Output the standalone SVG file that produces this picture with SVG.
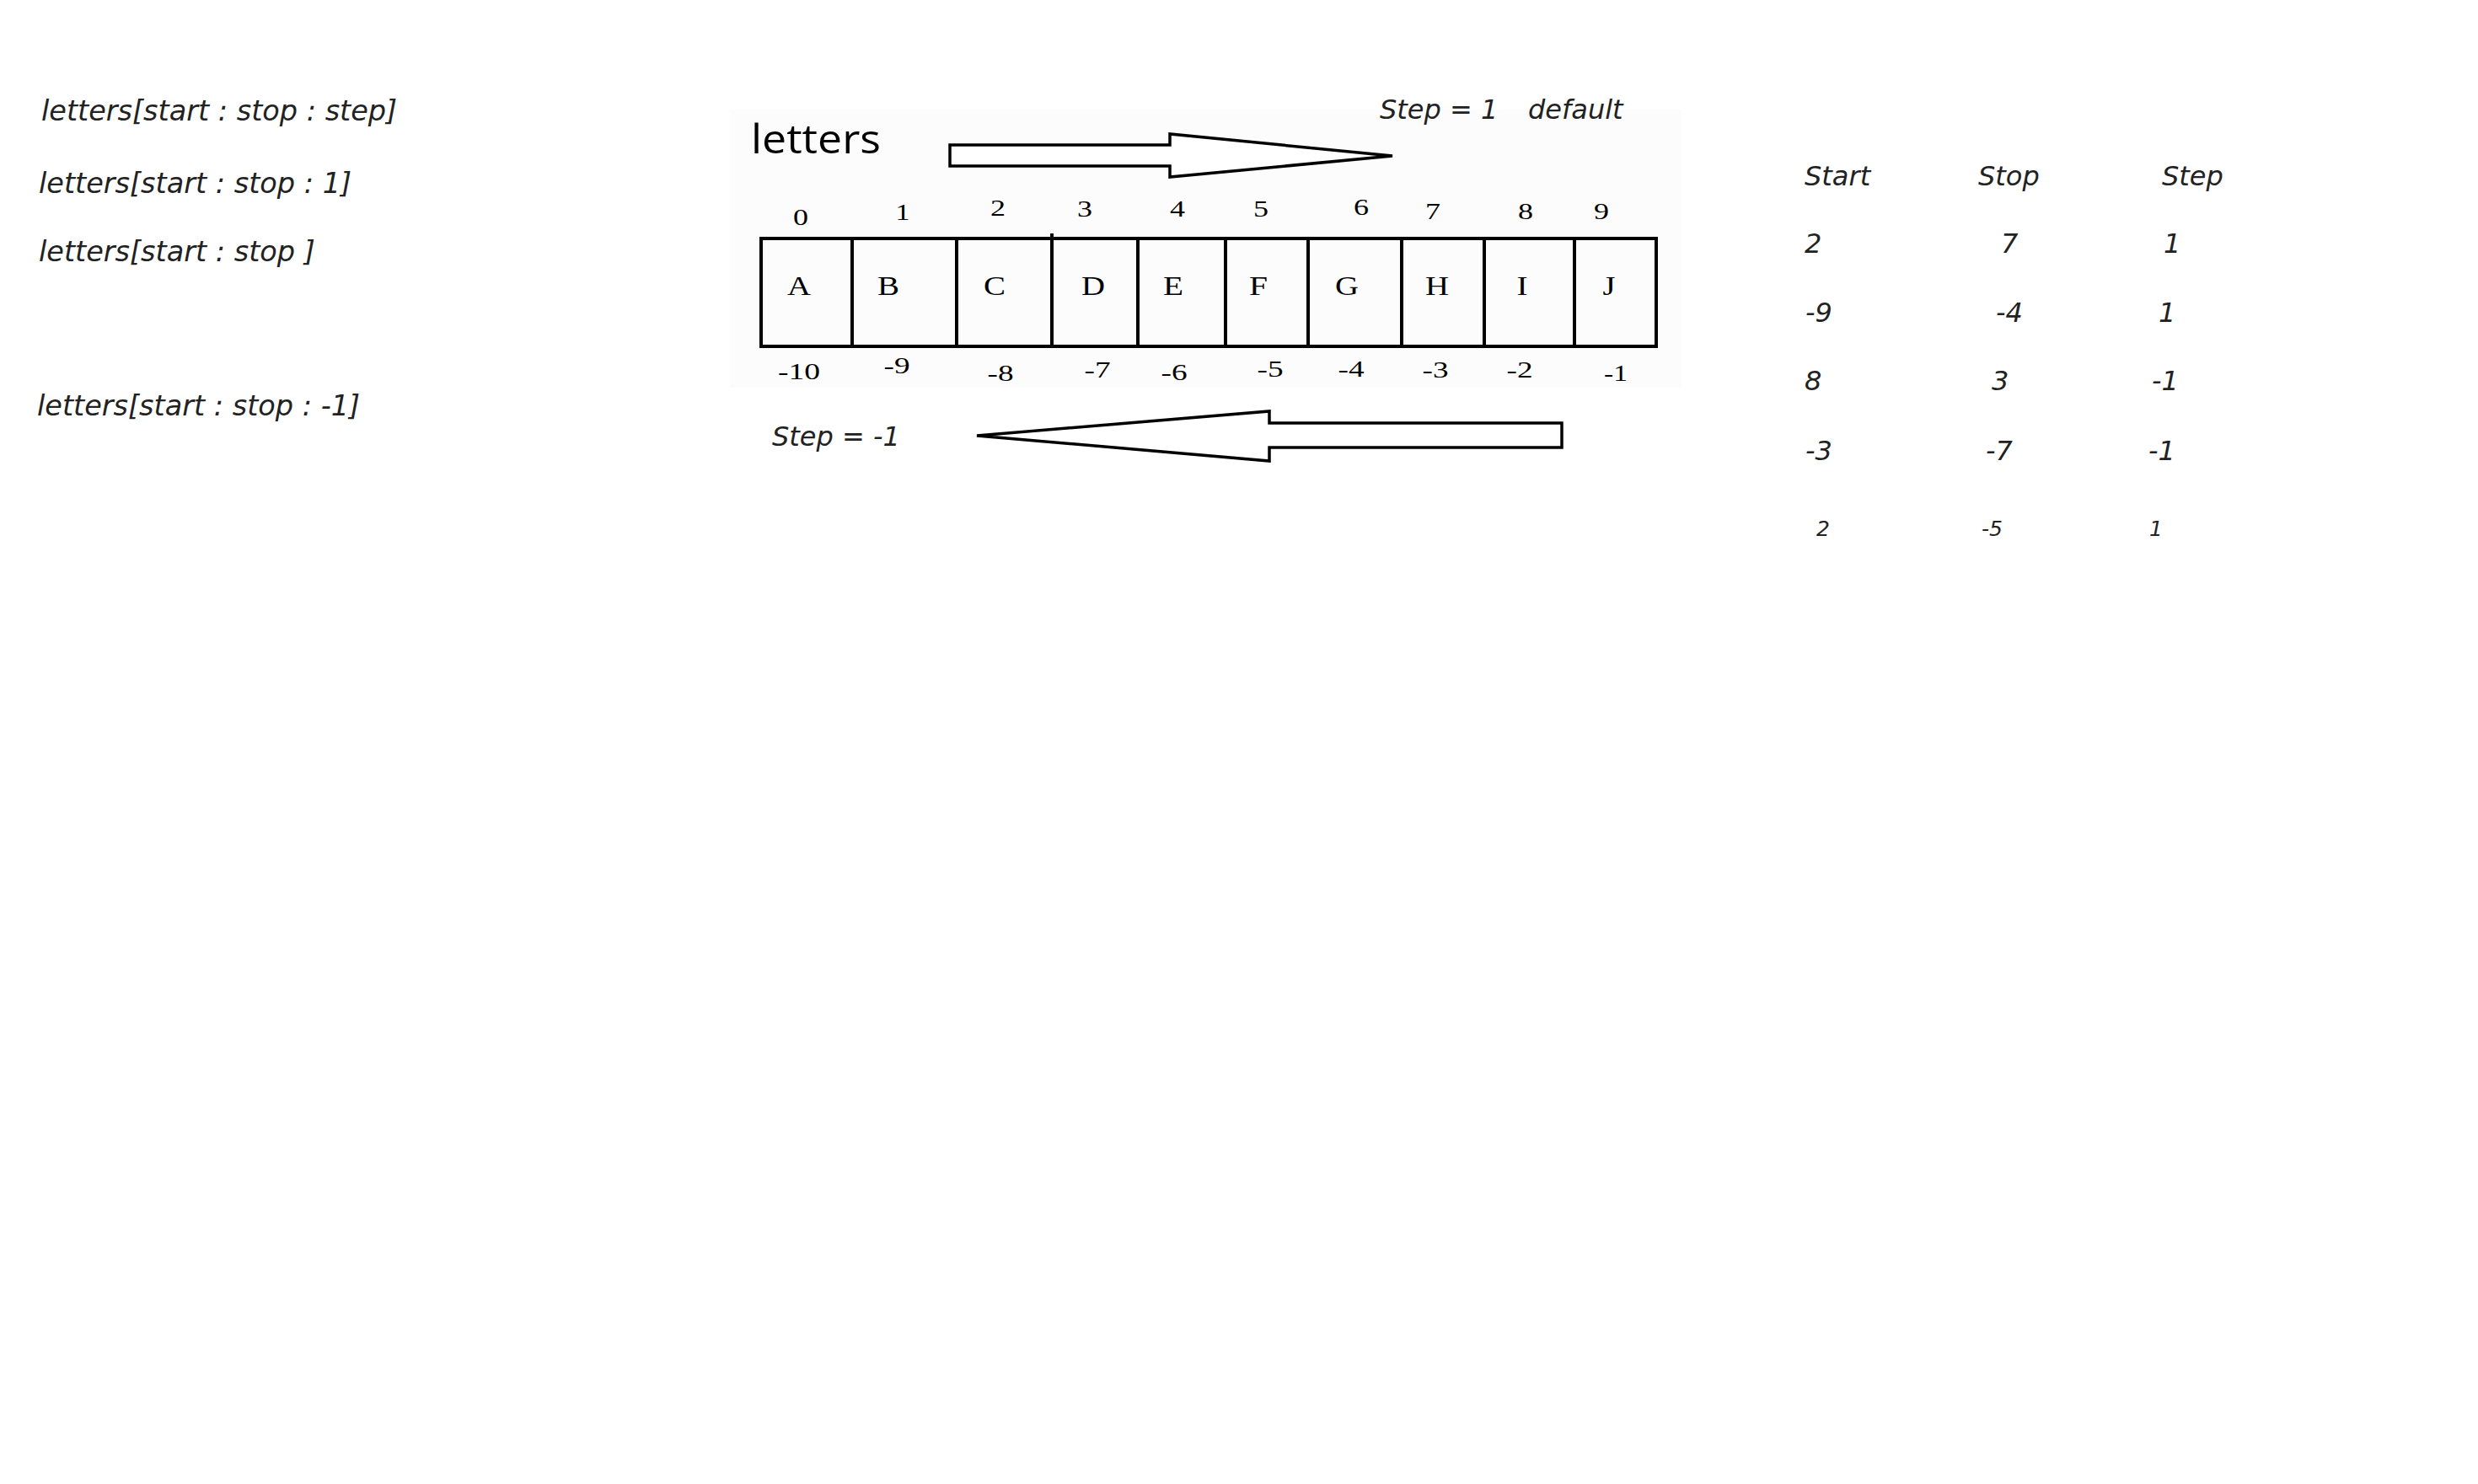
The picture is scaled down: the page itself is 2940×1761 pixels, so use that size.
<svg xmlns="http://www.w3.org/2000/svg" width="2940" height="1761" viewBox="0 0 2940 1761">
<style>
.it{font-family:"DejaVu Sans","Liberation Sans",sans-serif;font-style:italic;font-size:32px;fill:#222}
.big{font-size:33.5px}
.sm{font-size:25px}
.cell{fill:none;stroke:#000;stroke-width:4}
.ser{font-family:"Liberation Serif","DejaVu Serif",serif;font-size:31px;fill:#000;text-anchor:middle}
.num{font-size:28px}
.arr{fill:#fff;stroke:#000;stroke-width:3.5;stroke-linejoin:miter}
</style>
<rect width="2940" height="1761" fill="#fff"/>
<rect x="866" y="130" width="1129" height="330" fill="#fcfcfc"/>

<g id="syntax">
<text class="it big" x="49" y="143">letters[start : stop : step]</text>
<text class="it big" x="46" y="229">letters[start : stop : 1]</text>
<text class="it big" x="46" y="310">letters[start : stop ]</text>
<text class="it big" x="44" y="493">letters[start : stop : -1]</text>
</g>

<g id="title">
<text x="891" y="182" font-family="'Open Sans','DejaVu Sans',sans-serif" font-size="47" fill="#000" textLength="154" lengthAdjust="spacingAndGlyphs">letters</text>
</g>

<g id="step-labels">
<text class="it" x="1637" y="141">Step = 1</text>
<text class="it" x="1813" y="141">default</text>
<text class="it" x="916" y="529">Step = -1</text>
</g>

<g id="arrows">
<polygon class="arr" points="1127,172 1388,172 1388,159 1652,185 1388,210 1388,197 1127,197"/>
<polygon class="arr" points="1159,517 1506,488 1506,502 1853,502 1853,531 1506,531 1506,547"/>
</g>

<g id="array">
<g id="cell-A"><rect class="cell" x="903" y="283" width="108" height="128"/><text class="ser" x="948" y="350" textLength="28" lengthAdjust="spacingAndGlyphs">A</text><text class="ser num" x="950" y="267" textLength="18" lengthAdjust="spacingAndGlyphs">0</text><text class="ser num" x="948" y="450" textLength="50" lengthAdjust="spacingAndGlyphs">-10</text></g>
<g id="cell-B"><rect class="cell" x="1011" y="283" width="124" height="128"/><text class="ser" x="1054" y="350" textLength="26" lengthAdjust="spacingAndGlyphs">B</text><text class="ser num" x="1071" y="261" textLength="17" lengthAdjust="spacingAndGlyphs">1</text><text class="ser num" x="1064" y="443" textLength="31" lengthAdjust="spacingAndGlyphs">-9</text></g>
<g id="cell-C"><rect class="cell" x="1135" y="283" width="113" height="128"/><text class="ser" x="1180" y="350" textLength="26" lengthAdjust="spacingAndGlyphs">C</text><text class="ser num" x="1184" y="256" textLength="18" lengthAdjust="spacingAndGlyphs">2</text><text class="ser num" x="1187" y="452" textLength="31" lengthAdjust="spacingAndGlyphs">-8</text></g>
<g id="cell-D"><rect class="cell" x="1248" y="283" width="102" height="128"/><line x1="1248" y1="277" x2="1248" y2="283" stroke="#000" stroke-width="4"/><text class="ser" x="1297" y="350" textLength="28" lengthAdjust="spacingAndGlyphs">D</text><text class="ser num" x="1287" y="257" textLength="18" lengthAdjust="spacingAndGlyphs">3</text><text class="ser num" x="1302" y="448" textLength="31" lengthAdjust="spacingAndGlyphs">-7</text></g>
<g id="cell-E"><rect class="cell" x="1350" y="283" width="104" height="128"/><text class="ser" x="1392" y="350" textLength="24" lengthAdjust="spacingAndGlyphs">E</text><text class="ser num" x="1397" y="257" textLength="18" lengthAdjust="spacingAndGlyphs">4</text><text class="ser num" x="1393" y="451" textLength="31" lengthAdjust="spacingAndGlyphs">-6</text></g>
<g id="cell-F"><rect class="cell" x="1454" y="283" width="98" height="128"/><text class="ser" x="1493" y="350" textLength="22" lengthAdjust="spacingAndGlyphs">F</text><text class="ser num" x="1496" y="257" textLength="18" lengthAdjust="spacingAndGlyphs">5</text><text class="ser num" x="1507" y="447" textLength="31" lengthAdjust="spacingAndGlyphs">-5</text></g>
<g id="cell-G"><rect class="cell" x="1552" y="283" width="111" height="128"/><text class="ser" x="1598" y="350" textLength="28" lengthAdjust="spacingAndGlyphs">G</text><text class="ser num" x="1615" y="255" textLength="18" lengthAdjust="spacingAndGlyphs">6</text><text class="ser num" x="1603" y="447" textLength="31" lengthAdjust="spacingAndGlyphs">-4</text></g>
<g id="cell-H"><rect class="cell" x="1663" y="283" width="98" height="128"/><text class="ser" x="1705" y="350" textLength="28" lengthAdjust="spacingAndGlyphs">H</text><text class="ser num" x="1700" y="260" textLength="18" lengthAdjust="spacingAndGlyphs">7</text><text class="ser num" x="1703" y="448" textLength="31" lengthAdjust="spacingAndGlyphs">-3</text></g>
<g id="cell-I"><rect class="cell" x="1761" y="283" width="107" height="128"/><text class="ser" x="1806" y="350" textLength="13" lengthAdjust="spacingAndGlyphs">I</text><text class="ser num" x="1810" y="260" textLength="18" lengthAdjust="spacingAndGlyphs">8</text><text class="ser num" x="1803" y="448" textLength="31" lengthAdjust="spacingAndGlyphs">-2</text></g>
<g id="cell-J"><rect class="cell" x="1868" y="283" width="97" height="128"/><text class="ser" x="1909" y="350" textLength="15" lengthAdjust="spacingAndGlyphs">J</text><text class="ser num" x="1900" y="260" textLength="18" lengthAdjust="spacingAndGlyphs">9</text><text class="ser num" x="1917" y="452" textLength="28" lengthAdjust="spacingAndGlyphs">-1</text></g>
</g>

<g id="table">
<text class="it" x="2141" y="220">Start</text>
<text class="it" x="2347" y="220">Stop</text>
<text class="it" x="2565" y="220">Step</text>
<text class="it" x="2141" y="300">2</text>
<text class="it" x="2374" y="300">7</text>
<text class="it" x="2567" y="300">1</text>
<text class="it" x="2142" y="382">-9</text>
<text class="it" x="2368" y="382">-4</text>
<text class="it" x="2561" y="382">1</text>
<text class="it" x="2141" y="463">8</text>
<text class="it" x="2363" y="463">3</text>
<text class="it" x="2553" y="463">-1</text>
<text class="it" x="2142" y="546">-3</text>
<text class="it" x="2356" y="546">-7</text>
<text class="it" x="2549" y="546">-1</text>
<text class="it sm" x="2155" y="636">2</text>
<text class="it sm" x="2351" y="636">-5</text>
<text class="it sm" x="2550" y="636">1</text>
</g>
</svg>
